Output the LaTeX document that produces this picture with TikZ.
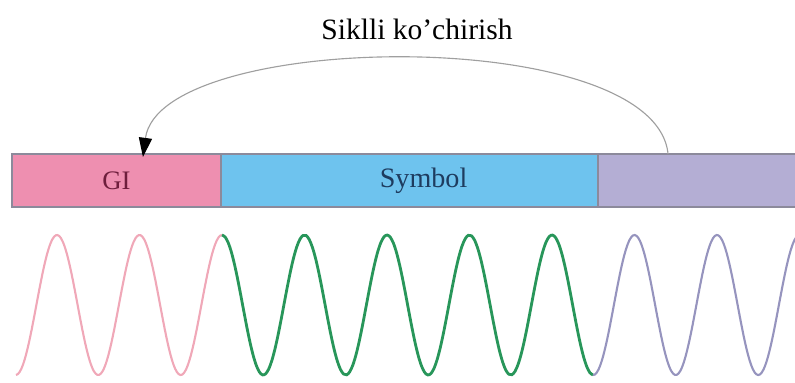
\documentclass[tikz,border=0pt]{standalone}
\usepackage{fontspec}
\setmainfont{Liberation Serif}
\usetikzlibrary{positioning,arrows.meta}
\definecolor{gipink}{RGB}{238,143,176}
\definecolor{symblue}{RGB}{110,195,238}
\definecolor{cplilac}{RGB}{180,174,212}
\definecolor{segline}{RGB}{140,138,155}
\definecolor{gitext}{RGB}{110,30,60}
\definecolor{symtext}{RGB}{30,60,95}
\definecolor{wavepink}{RGB}{240,168,184}
\definecolor{wavegreen}{RGB}{40,150,90}
\definecolor{wavelilac}{RGB}{150,148,190}
\tikzset{
 seg/.style={draw=segline,line width=1pt,minimum height=1.325cm,inner sep=0pt,outer sep=0pt},
 wave/.style={line width=1.5pt,smooth,samples=120,variable=\x},
}
\begin{document}
\begin{tikzpicture}[>=stealth,x=0.025cm,y=-0.025cm]
 \useasboundingbox (0,0) rectangle (795,382);
 \clip (0,0) rectangle (795,382);
 % cyclic prefix frame
 \node[seg,fill=gipink,minimum width=5.225cm,text=gitext,font=\fontsize{19}{22}\selectfont] (gi) at (116.5,180.5) {GI};
 \node[seg,fill=symblue,minimum width=9.425cm,text=symtext,font=\fontsize{20}{22}\selectfont,right=0pt of gi] (sym) {\hspace*{0.7cm}Symbol};
 \node[seg,fill=cplilac,minimum width=4.975cm,right=0pt of sym] (cp) {};
 \node[font=\fontsize{21}{25}\selectfont] (title) at (417,29) {Siklli ko’chirish};
 \draw[draw=gray!75,line width=0.8pt,-{Triangle[length=0.48cm,width=0.33cm,color=black]}]
  ([xshift=-0.74cm]cp.north) .. controls (655,24) and (160,30) .. ([xshift=0.66cm,yshift=-0.075cm]gi.north);
 % waves, period 82.5px -> 360/82.5 = 4.3636
 \draw[wave,wavepink,domain=16:222] plot ({\x},{305-70*cos(4.3636*(\x-57))});
 \draw[wave,wavegreen,line width=2pt,domain=222:593] plot ({\x},{305-70*cos(4.3636*(\x-57))});
 \draw[wave,wavelilac,domain=593:800] plot ({\x},{305-70*cos(4.3636*(\x-57))});
\end{tikzpicture}
\end{document}
